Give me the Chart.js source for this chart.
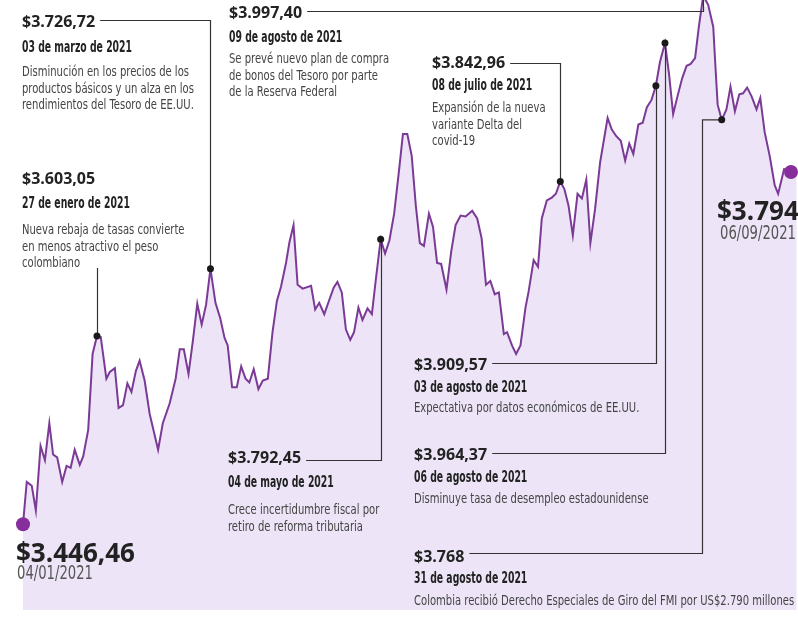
<!DOCTYPE html>
<html lang="es">
<head>
<meta charset="utf-8">
<title>Dólar en Colombia 2021</title>
<script src="https://cdn.jsdelivr.net/npm/chart.js@4.4.0/dist/chart.umd.min.js"></script>
<style>
  html, body { margin: 0; padding: 0; background: #fff; }
</style>
</head>
<body>
<canvas id="trmChart" width="798" height="622"></canvas>
<script>
const dias = [
  0, 1.2, 2.8, 4.1, 5.6, 7.0, 8.4, 9.6, 10.9, 12.5,
  13.9, 15.2, 16.5, 18.1, 19.2, 20.8, 22.2, 23.6, 24.8, 26.6,
  27.7, 29.3, 30.5, 31.9, 33.3, 34.6, 36.0, 37.2, 38.8, 40.4,
  43.1, 44.6, 46.8, 48.7, 50.0, 51.3, 52.8, 54.2, 55.6, 57.0,
  58.4, 59.8, 61.4, 62.9, 64.3, 65.3, 66.7, 68.2, 69.6, 71.0,
  72.2, 73.6, 75.1, 76.5, 78.1, 79.6, 81.0, 82.3, 83.9, 85.0,
  86.3, 87.6, 89.2, 91.9, 93.2, 94.5, 96.1, 97.7, 99.1, 100.3,
  101.7, 103.0, 104.4, 105.6, 107.0, 108.3, 109.9, 111.3, 112.5, 114.1,
  115.5, 116.9, 118.4, 120.0, 121.2, 122.6, 124.0, 125.3, 126.6, 127.9,
  129.5, 130.8, 132.1, 133.4, 135.1, 136.6, 138.0, 139.6, 141.2, 143.3,
  144.9, 146.3, 147.7, 149.1, 150.5, 151.8, 153.4, 154.4, 156.0, 157.3,
  158.7, 160.3, 161.3, 162.9, 164.3, 165.5, 167.1, 168.7, 170.0, 171.4,
  172.7, 174.0, 175.4, 176.9, 178.3, 179.7, 181.0, 182.5, 184.1, 186.5,
  187.8, 189.2, 190.7, 192.1, 193.4, 194.7, 196.3, 197.7, 199.0, 200.5,
  201.9, 203.2, 204.8, 206.1, 207.4, 208.8, 210.3, 211.7, 213.0, 214.4,
  215.6, 217.0, 218.6, 220.2, 220.9, 221.6, 222.9, 224.4, 225.7, 227.1,
  228.5, 229.7, 231.0, 232.4, 234.0, 235.2, 236.6, 238.2, 239.8, 240.9,
  242.8, 245.0
];

// pesos por dólar
const tasa = [
  3446.46, 3491, 3487, 3461, 3529, 3514, 3553, 3520, 3517, 3491,
  3508, 3506, 3525, 3509, 3518, 3546, 3626, 3645, 3644, 3600,
  3607, 3611, 3569, 3572, 3595, 3586, 3608, 3619, 3598, 3563,
  3525, 3553, 3574, 3600, 3631, 3631, 3605, 3640, 3679, 3657,
  3678, 3716, 3680, 3664, 3643, 3635, 3591, 3591, 3613, 3600,
  3596, 3610, 3589, 3598, 3600, 3649, 3682, 3697, 3722, 3744,
  3762, 3699, 3695, 3698, 3673, 3680, 3668, 3683, 3696, 3702,
  3691, 3652, 3641, 3649, 3675, 3662, 3674, 3668, 3703, 3747,
  3732, 3746, 3774, 3821, 3858, 3858, 3835, 3783, 3743, 3740,
  3774, 3760, 3722, 3721, 3694, 3734, 3762, 3772, 3771, 3777,
  3769, 3748, 3699, 3703, 3689, 3691, 3647, 3649, 3635, 3626,
  3635, 3675, 3692, 3725, 3718, 3769, 3788, 3791, 3795, 3808,
  3800, 3783, 3751, 3795, 3790, 3810, 3743, 3779, 3828, 3875,
  3863, 3856, 3851, 3830, 3848, 3837, 3868, 3870, 3886, 3894,
  3909, 3934, 3954, 3921, 3879, 3898, 3917, 3930, 3932, 3938,
  3971, 4004, 3994, 3971, 3929, 3889, 3873, 3884, 3908, 3882,
  3900, 3901, 3907, 3898, 3884, 3896, 3860, 3835, 3804, 3795,
  3821, 3818
];

const inicioValor = "$3.446,46", inicioFecha = "04/01/2021";
const finValor = "$3.794", finFecha = "06/09/2021";

// hitos: índice del punto en la serie y sus textos
const hitosIdx = [17, 41, 79, 119, 140, 142, 151, 156];
const hitosValor = ["$3.603,05", "$3.726,72", "$3.792,45", "$3.842,96", "$3.909,57", "$3.964,37", "$3.997,40", "$3.768"];
const hitosFecha = [
  "27 de enero de 2021", "03 de marzo de 2021", "04 de mayo de 2021", "08 de julio de 2021",
  "03 de agosto de 2021", "06 de agosto de 2021", "09 de agosto de 2021", "31 de agosto de 2021"
];
const hitosTexto = [
  ["Nueva rebaja de tasas convierte", "en menos atractivo el peso", "colombiano"],
  ["Disminución en los precios de los", "productos básicos y un alza en los", "rendimientos del Tesoro de EE.UU."],
  ["Crece incertidumbre fiscal por", "retiro de reforma tributaria"],
  ["Expansión de la nueva", "variante Delta del", "covid-19"],
  ["Expectativa por datos económicos de EE.UU."],
  ["Disminuye tasa de desempleo estadounidense"],
  ["Se prevé nuevo plan de compra", "de bonos del Tesoro por parte", "de la Reserva Federal"],
  ["Colombia recibió Derecho Especiales de Giro del FMI por US$2.790 millones"]
];

// dónde va cada bloque de texto (x, líneas base) y por dónde pasa el conector
const cajas = [
  { x: 22, yv: 184, yf: 208, yt: 234, vertical: 268 },
  { x: 22, yv: 27, yf: 52, yt: 76, yLinea: 20.5 },
  { x: 228, yv: 463, yf: 487, yt: 514, yLinea: 460.5 },
  { x: 432, yv: 68, yf: 90, yt: 112, yLinea: 63.5 },
  { x: 414, yv: 370, yf: 392, yt: 412, yLinea: 363.5 },
  { x: 414, yv: 460, yf: 482, yt: 503, yLinea: 453.5 },
  { x: 229, yv: 18, yf: 42, yt: 63, yLinea: 11.5 },
  { x: 414, yv: 562, yf: 583, yt: 605, yLinea: 553.5, codoX: 702 }
];

const FUENTE = '"DejaVu Sans Condensed", "DejaVu Sans", sans-serif';
const FUENTE_VALOR = "700 16px 'Open Sans', sans-serif";
const FUENTE_FECHA = "700 15px " + FUENTE;
const FUENTE_TEXTO = "14px " + FUENTE;

// texto comprimido en horizontal, para imitar la letra condensada
function textoAngosto(c, txt, x, y, sx) {
  c.save();
  c.translate(x, y);
  c.scale(sx, 1);
  c.fillText(txt, 0, 0);
  c.restore();
}

// el relleno sigue hasta el borde derecho después del último punto
const rellenoFinal = {
  id: "rellenoFinal",
  beforeDatasetsDraw(chart) {
    const pts = chart.getDatasetMeta(0).data;
    const last = pts[pts.length - 1];
    const { right, bottom } = chart.chartArea;
    const c = chart.ctx;
    c.save();
    c.fillStyle = chart.data.datasets[0].backgroundColor;
    c.fillRect(last.x - 0.5, last.y, right - last.x + 6, bottom - last.y);
    c.restore();
  }
};

const hitosPlugin = {
  id: "hitos",
  afterDatasetsDraw(chart) {
    const c = chart.ctx;
    const pts = chart.getDatasetMeta(0).data;
    c.save();

    // factores de compresión medidos sobre líneas de referencia
    c.font = FUENTE_FECHA;
    const sxFecha = 110 / c.measureText("03 de marzo de 2021").width;
    c.font = FUENTE_TEXTO;
    const sxTexto = 167 / c.measureText("Disminución en los precios de los").width;

    // conectores
    c.strokeStyle = "#333";
    c.lineWidth = 1.2;
    hitosIdx.forEach((idx, i) => {
      const p = pts[idx];
      const b = cajas[i];
      const px = Math.round(p.x) + 0.5;
      c.beginPath();
      if (b.vertical) {
        c.moveTo(px, b.vertical);
        c.lineTo(px, p.y);
      } else {
        c.font = FUENTE_VALOR;
        const xIni = b.x + c.measureText(hitosValor[i]).width + 5;
        c.moveTo(xIni, b.yLinea);
        if (b.codoX) {
          c.lineTo(b.codoX + 0.5, b.yLinea);
          c.lineTo(b.codoX + 0.5, p.y);
          c.lineTo(p.x, p.y);
        } else {
          c.lineTo(px, b.yLinea);
          c.lineTo(px, p.y);
        }
      }
      c.stroke();
    });

    // puntos negros de cada hito
    c.fillStyle = "#1a1a1a";
    hitosIdx.forEach((idx) => {
      const p = pts[idx];
      c.beginPath();
      c.arc(p.x, p.y, 3.5, 0, Math.PI * 2);
      c.fill();
    });

    // textos de los hitos
    c.textAlign = "left";
    c.textBaseline = "alphabetic";
    hitosIdx.forEach((idx, i) => {
      const b = cajas[i];
      c.fillStyle = "#222";
      c.font = FUENTE_VALOR;
      c.fillText(hitosValor[i], b.x, b.yv);
      c.font = FUENTE_FECHA;
      textoAngosto(c, hitosFecha[i], b.x, b.yf, sxFecha);
      c.fillStyle = "#444";
      c.font = FUENTE_TEXTO;
      hitosTexto[i].forEach((t, k) => textoAngosto(c, t, b.x, b.yt + k * 16.7, sxTexto));
    });

    // valores de inicio y fin
    c.fillStyle = "#222";
    c.font = "700 26px 'Open Sans', sans-serif";
    c.fillText(inicioValor, 16, 562);
    c.fillText(finValor, 717, 220);
    c.fillStyle = "#555";
    c.font = "20px 'DejaVu Sans', sans-serif";
    const sxF = 76 / c.measureText(inicioFecha).width;
    textoAngosto(c, inicioFecha, 17, 579, sxF);
    textoAngosto(c, finFecha, 720, 239, sxF);

    c.restore();
  }
};

const ctx = document.getElementById("trmChart").getContext("2d");
const myChart = new Chart(ctx, {
  type: "line",
  data: {
    datasets: [{
      data: dias.map((d, i) => ({ x: d, y: tasa[i] })),
      borderColor: "#7b3a96",
      borderWidth: 2,
      backgroundColor: "#ede5f7",
      fill: "start",
      tension: 0,
      clip: false,
      pointRadius: (c) => (c.dataIndex === 0 || c.dataIndex === tasa.length - 1 ? 7 : 0),
      pointBackgroundColor: "#862f9c",
      pointBorderWidth: 0,
      pointHoverRadius: 0
    }]
  },
  options: {
    responsive: false,
    animation: false,
    devicePixelRatio: 1,
    layout: { padding: { left: 23, right: 5, top: 0, bottom: 12 } },
    scales: {
      x: { type: "linear", min: 0, max: 245, display: false },
      y: { min: 3356, max: 3992, display: false }
    },
    plugins: {
      legend: { display: false },
      tooltip: { enabled: false }
    }
  },
  plugins: [rellenoFinal, hitosPlugin]
});
</script>
</body>
</html>
